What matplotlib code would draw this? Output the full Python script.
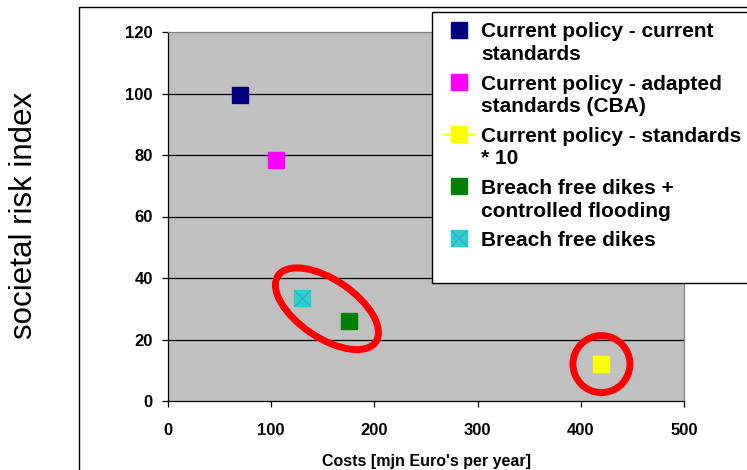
import matplotlib
matplotlib.use("Agg")
import matplotlib.pyplot as plt
from matplotlib.lines import Line2D
from matplotlib.patches import Ellipse, Rectangle
from matplotlib.transforms import ScaledTranslation

# data
series_names = ["Current policy - current\nstandards",
                "Current policy - adapted\nstandards (CBA)",
                "Current policy - standards\n* 10",
                "Breach free dikes +\ncontrolled flooding",
                "Breach free dikes"]
costs = [70, 105, 420, 175, 130]
risk = [99.5, 78.5, 12, 26, 33.5]
colors = ["#000080", "#FF00FF", "#FFFF00", "#008000", "#33CCCC"]
xticks = [0, 100, 200, 300, 400, 500]
yticks = [0, 20, 40, 60, 80, 100, 120]

W, H = 747, 470
plt.rcParams['font.family'] = ['Liberation Sans', 'DejaVu Sans']

fig = plt.figure(figsize=(W / 100, H / 100), dpi=100)
ax = fig.add_axes([168 / W, 1 - 401 / H, (684 - 168) / W, (401 - 32) / H])
ax.set_facecolor("#C0C0C0")
ax.set_xlim(0, 500)
ax.set_ylim(0, 120)
ax.set_xticks(xticks)
ax.set_yticks(yticks)
ax.hlines(yticks[1:-1], 0, 500, color="black", lw=0.9, zorder=1)

for s in ["left", "bottom"]:
    ax.spines[s].set_color("black")
    ax.spines[s].set_linewidth(0.9)
for s in ["top", "right"]:
    ax.spines[s].set_color("#808080")
    ax.spines[s].set_linewidth(0.9)

ax.tick_params(axis="both", direction="out", length=4.5, width=0.9,
               labelsize=12)
ax.tick_params(axis="y", pad=6.5)
ax.tick_params(axis="x", pad=11)
for lab in ax.get_xticklabels() + ax.get_yticklabels():
    lab.set_fontweight("bold")

handles = []
for i in range(len(costs)):
    ls = "-" if i == 2 else "none"
    h, = ax.plot([costs[i]], [risk[i]], marker="s", ms=12, color=colors[i],
                 mec=colors[i], ls=ls, lw=1, zorder=3)
    if i == 4:
        hx, = ax.plot([costs[i]], [risk[i]], marker="x", ms=11, mew=0.8,
                      color="#1FB2DA", ls="none", zorder=4)
        h = (h, hx)
    handles.append(h)

# red rings drawn in pixel units around the marked points
def ring(cx, cy, w, hgt, ang):
    tr = fig.dpi_scale_trans + ScaledTranslation(cx, cy, ax.transData)
    e = Ellipse((0, 0), w / 100, hgt / 100, angle=ang, transform=tr,
                fill=False, edgecolor="#FF0000", lw=5, zorder=5)
    ax.add_patch(e)

ring(154, 30, 118, 58, -34)
ring(420, 12, 57, 57, 0)

ax.set_xlabel("Costs [mjn Euro's per year]", fontsize=11.5,
              fontweight="bold", labelpad=12)
fig.text(24 / W, 1 - 215 / H, "societal risk index", rotation=90,
         fontsize=22.5, ha="center", va="center")

# outer chart border
fig.add_artist(Line2D([79 / W, 79 / W, 1.0], [0, 1 - 7 / H, 1 - 7 / H],
                      transform=fig.transFigure, color="black", lw=1))

# legend frame and legend
fig.add_artist(Rectangle((432 / W, 1 - 283 / H), 0.5, 271 / H,
                         transform=fig.transFigure, facecolor="white",
                         edgecolor="black", lw=1, zorder=4))
leg = fig.legend(handles, series_names, loc="upper left",
                 bbox_to_anchor=(432 / W, 1 - 12 / H), borderaxespad=0,
                 frameon=False, borderpad=0.5,
                 labelspacing=0.5, handlelength=1.57, handletextpad=0.3,
                 prop={"weight": "bold", "size": 15})
leg.set_zorder(5)
for t in leg.get_texts():
    t.set_linespacing(1.25)
for col in leg._legend_handle_box.get_children():
    for item in col.get_children():
        item.align = "top"

fig.savefig("out.png", dpi=100)
